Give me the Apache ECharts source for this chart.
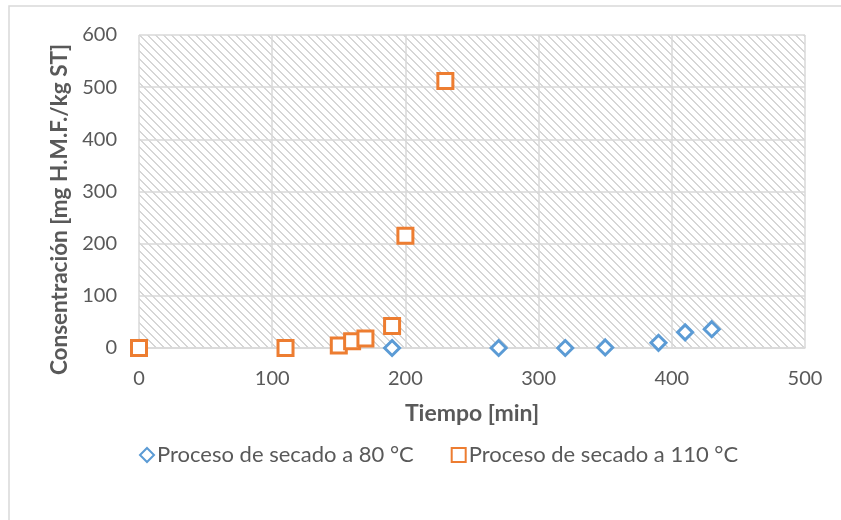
<!DOCTYPE html>
<html>
<head>
<meta charset="utf-8">
<script src="https://cdn.jsdelivr.net/npm/echarts@6/dist/echarts.min.js"></script>
<style>
  html, body { margin: 0; padding: 0; background: #fff; }
  #chart { width: 841px; height: 520px; }
</style>
</head>
<body>
<div id="chart"></div>
<script>
// Drying time (min) and H.M.F. concentration (mg H.M.F./kg ST)
const tiempo80 = [190, 270, 320, 350, 390, 410, 430];
const hmf80 = [0, 0, 0, 1, 10, 30, 36];
const tiempo110 = [0, 110, 150, 160, 170, 190, 200, 230];
const hmf110 = [0, 0, 5, 13, 18, 42, 215, 512];

const serie80 = 'Proceso de secado a 80 °C';
const serie110 = 'Proceso de secado a 110 °C';
const xTitulo = 'Tiempo [min]';
const yTitulo = 'Consentración [mg H.M.F./kg ST]';

// Downward diagonal hatch tile for the plot area
function hatchTile() {
  const size = 8;
  const c = document.createElement('canvas');
  c.width = size; c.height = size;
  const ctx = c.getContext('2d');
  ctx.fillStyle = '#ffffff';
  ctx.fillRect(0, 0, size, size);
  ctx.fillStyle = '#d6d6d6';
  for (let y = 0; y < size; y++) {
    for (let x = 0; x < size; x++) {
      const d = ((x - y) % size + size) % size;
      if (d === 0 || (d === 1 && (x + y) % 2 === 1)) ctx.fillRect(x, y, 1, 1);
    }
  }
  return c;
}

const font = 'Lato, Carlito, "Liberation Sans", sans-serif';
const axisGrey = '#595959';
const gridGrey = '#d9d9d9';

const chart = echarts.init(document.getElementById('chart'), null, { renderer: 'canvas' });
chart.setOption({
  backgroundColor: '#ffffff',
  animation: false,
  textStyle: { fontFamily: font },
  graphic: [{
    type: 'rect',
    shape: { x: 9, y: 6, width: 900, height: 600 },
    style: { fill: 'none', stroke: gridGrey, lineWidth: 1.5 },
    silent: true
  }],
  grid: {
    left: 139, right: 36, top: 35, bottom: 172,
    show: true,
    borderWidth: 0,
    backgroundColor: { image: hatchTile(), repeat: 'repeat' }
  },
  legend: {
    bottom: 49,
    left: 134,
    itemGap: 37,
    itemWidth: 14,
    itemHeight: 14,
    textStyle: { fontFamily: font, fontSize: 22, color: axisGrey, padding: [0, 0, 0, -2] },
    data: [serie80, serie110]
  },
  xAxis: {
    type: 'value',
    min: 0, max: 500, interval: 100,
    name: xTitulo,
    nameLocation: 'middle',
    nameGap: 54,
    nameTextStyle: { fontFamily: font, fontSize: 23, fontWeight: 'bold', color: axisGrey },
    axisLine: { show: true, onZero: true, lineStyle: { color: gridGrey, width: 1.5 } },
    axisTick: { show: false },
    axisLabel: { fontFamily: font, fontSize: 20, color: axisGrey, margin: 21 },
    splitLine: { show: true, lineStyle: { color: gridGrey, width: 1.5 } }
  },
  yAxis: {
    type: 'value',
    min: 0, max: 600, interval: 100,
    name: yTitulo,
    nameLocation: 'middle',
    nameGap: 65,
    nameTextStyle: {
      fontFamily: font, fontSize: 22.5, fontWeight: 'bold', color: axisGrey,
      padding: [0, 36, 0, 0]
    },
    axisLine: { show: false },
    axisTick: { show: false },
    axisLabel: { fontFamily: font, fontSize: 20, color: axisGrey, margin: 22 },
    splitLine: { show: true, lineStyle: { color: gridGrey, width: 1.5 } }
  },
  series: [
    {
      name: serie80,
      type: 'scatter',
      symbol: 'diamond',
      symbolSize: 15,
      itemStyle: { color: '#ffffff', borderColor: '#5B9BD5', borderWidth: 3, opacity: 1 },
      data: tiempo80.map((t, i) => [t, hmf80[i]]),
      z: 3
    },
    {
      name: serie110,
      type: 'scatter',
      symbol: 'rect',
      symbolSize: 15,
      itemStyle: { color: '#ffffff', borderColor: '#ED7D31', borderWidth: 3, opacity: 1 },
      data: tiempo110.map((t, i) => [t, hmf110[i]]),
      z: 4
    }
  ]
});
</script>
</body>
</html>
